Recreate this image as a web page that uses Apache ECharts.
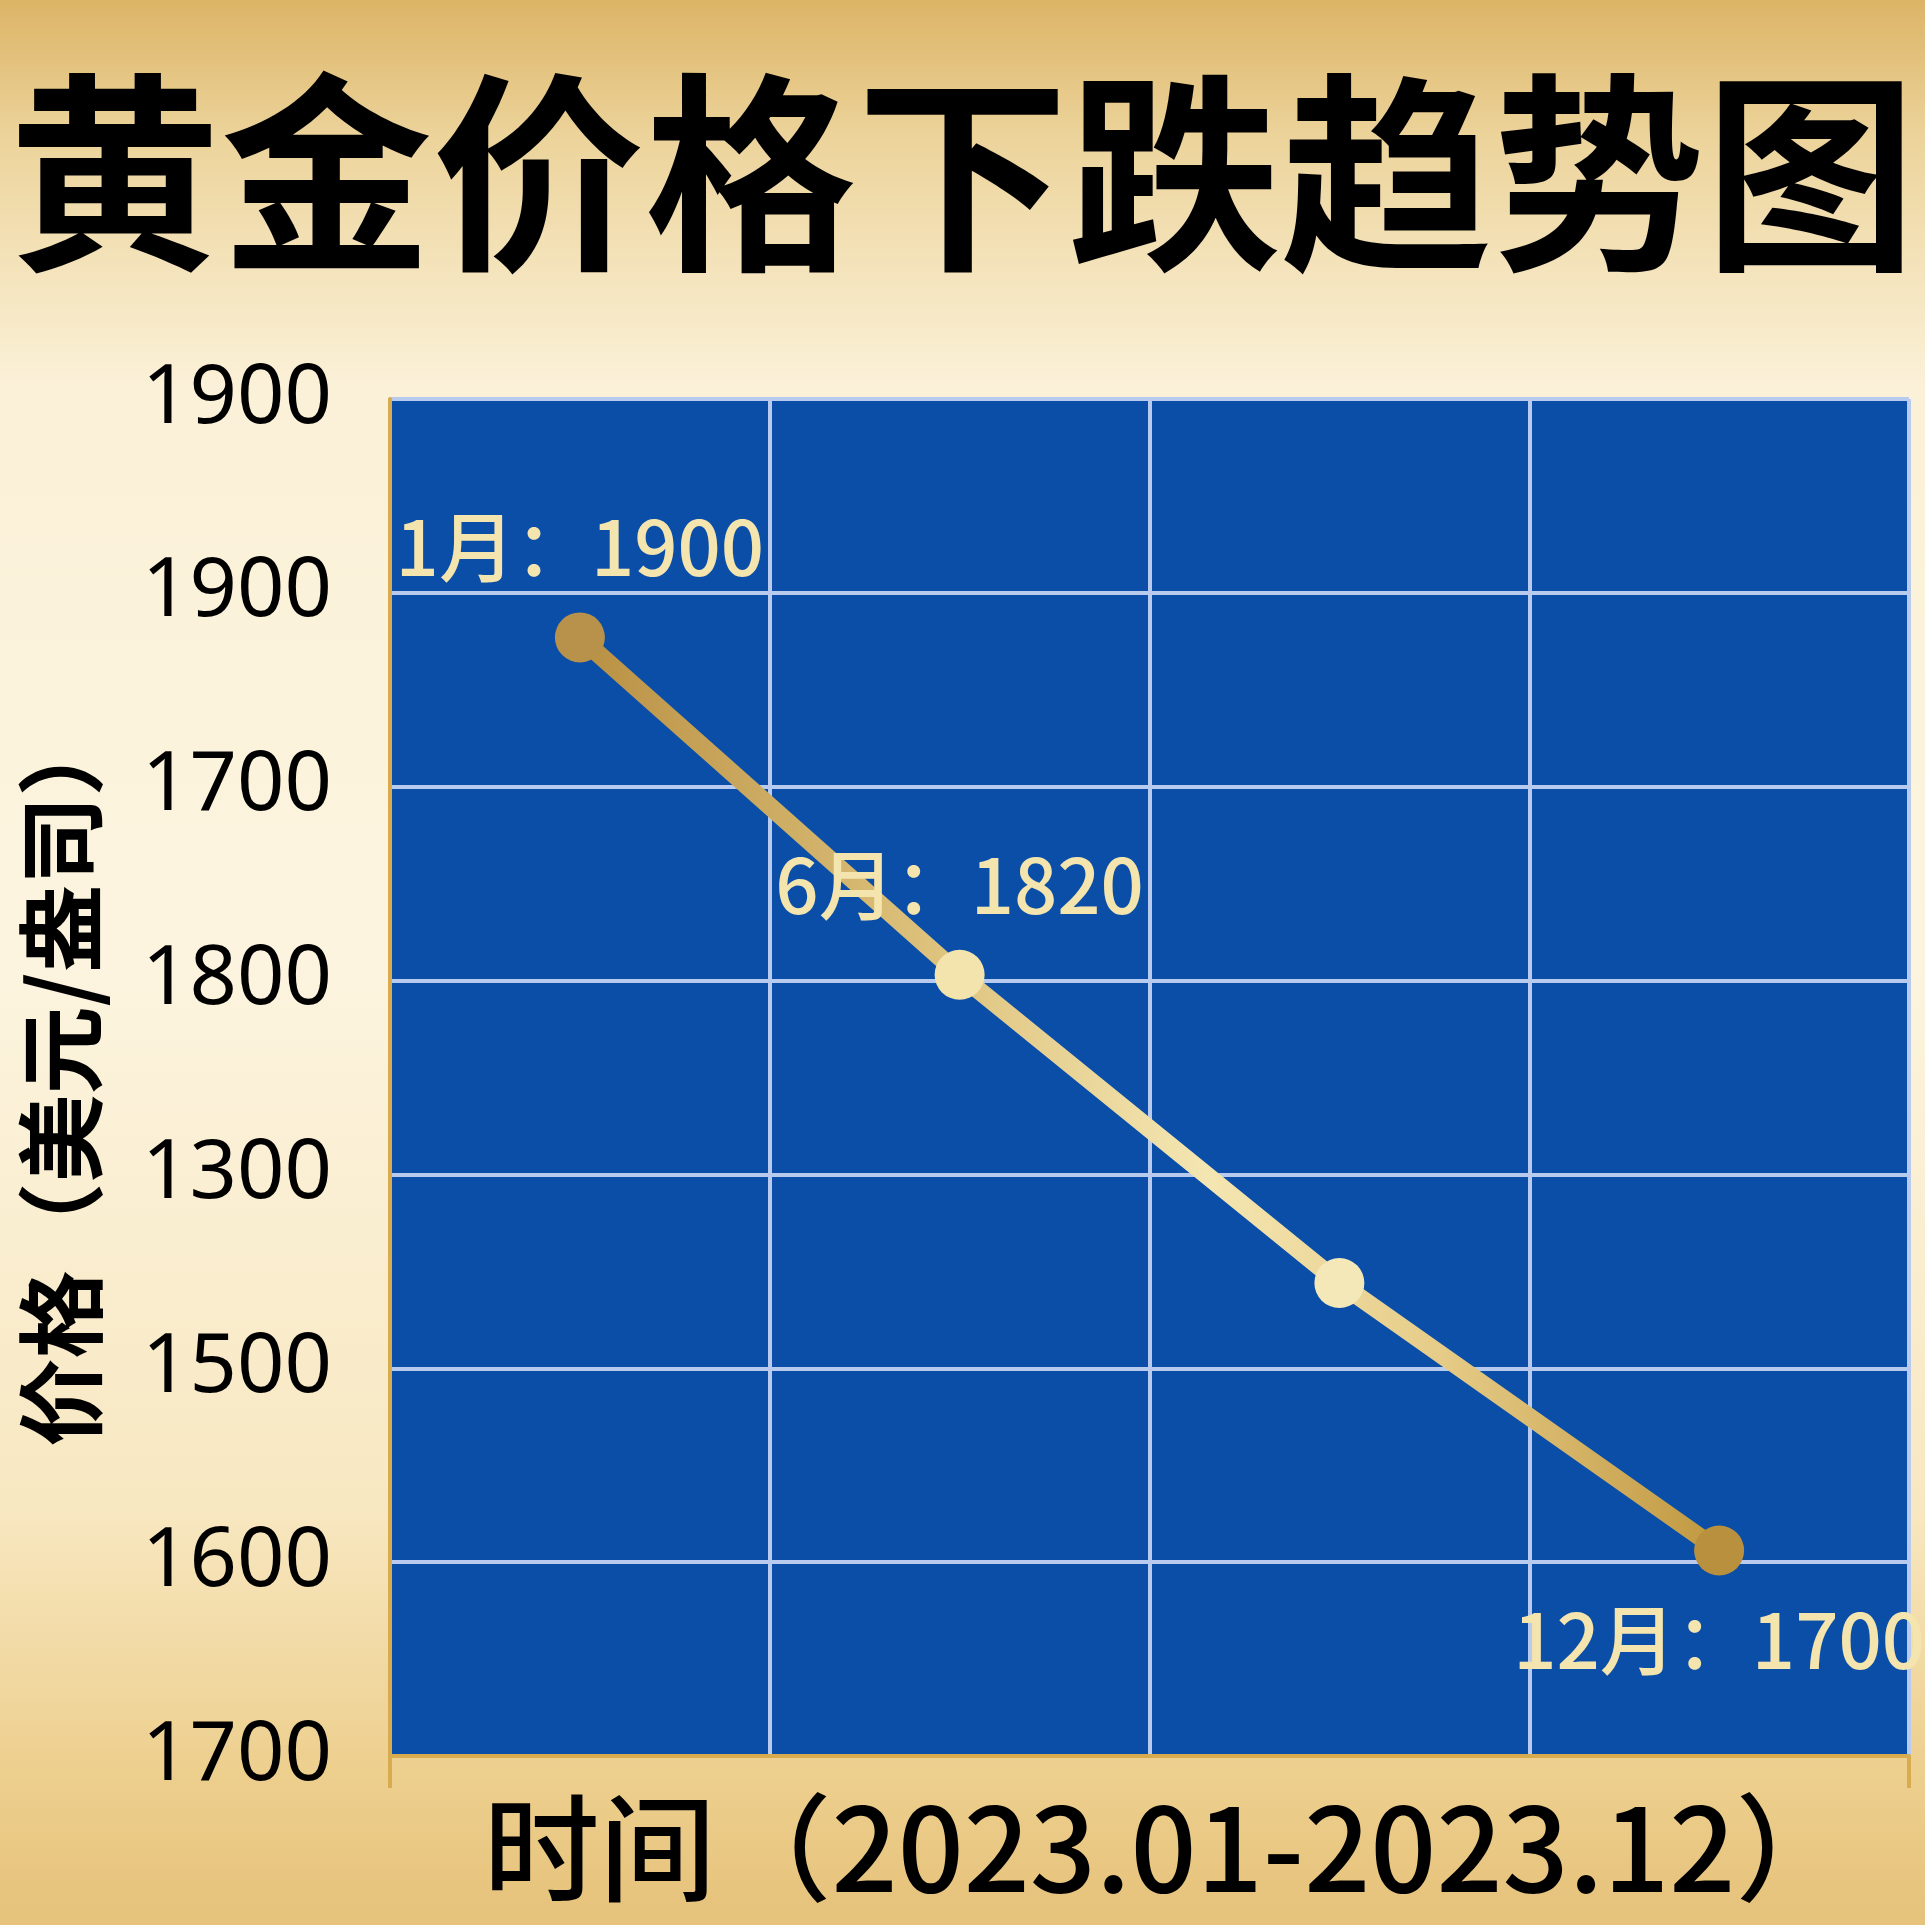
<!DOCTYPE html>
<html>
<head>
<meta charset="utf-8">
<script src="https://cdn.jsdelivr.net/npm/echarts@6/dist/echarts.min.js"></script>
<style>
html,body{margin:0;padding:0;}
#main{width:1925px;height:1925px;}
</style>
</head>
<body>
<div id="main"></div>
<script>
const titleText = '黄金价格下跌趋势图';
const xAxisName = '时间（2023.01-2023.12）';
const yAxisName = '价格（美元/盎司）';
const categories = ['1月', '6月', '', '12月'];
const yTickLabels = ['1700', '1600', '1500', '1300', '1800', '1700', '1900', '1900'];
const pointPositions = [5.77, 4.03, 2.44, 1.06];
const pointLabels = ['1月：1900', '6月：1820', '', '12月：1700'];
const pointColors = ['#b8914a', '#f3e4ae', '#f5e8b8', '#b9913e'];
const labelPlacement = ['top', 'top', 'top', 'bottom'];

const chart = echarts.init(document.getElementById('main'));
const CJK = '"Noto Sans CJK SC", "Noto Sans", sans-serif';

const seriesData = pointPositions.map((v, i) => ({
  value: v,
  itemStyle: { color: pointColors[i] },
  label: {
    show: pointLabels[i] !== '',
    formatter: pointLabels[i],
    position: labelPlacement[i],
    distance: 27
  }
}));

chart.setOption({
  backgroundColor: new echarts.graphic.LinearGradient(0, 0, 0, 1, [
    { offset: 0, color: '#dcb466' },
    { offset: 0.07, color: '#ecd39a' },
    { offset: 0.2, color: '#fbf1d8' },
    { offset: 0.5, color: '#fcf4df' },
    { offset: 0.78, color: '#f8e8c2' },
    { offset: 0.92, color: '#edcf8e' },
    { offset: 1, color: '#e6c27a' }
  ]),
  title: {
    text: titleText,
    left: 'center',
    top: 62,
    textStyle: {
      fontFamily: CJK,
      fontSize: 212,
      fontWeight: 'bold',
      color: '#000000'
    }
  },
  grid: {
    left: 390,
    right: 16,
    top: 399,
    bottom: 169,
    show: true,
    backgroundColor: '#0a4ea8',
    borderWidth: 0
  },
  xAxis: {
    type: 'category',
    data: categories,
    boundaryGap: true,
    name: xAxisName,
    nameLocation: 'middle',
    nameGap: 34,
    nameTextStyle: {
      fontFamily: CJK,
      fontSize: 116,
      fontWeight: 500,
      color: '#000000',
      padding: [0, 0, 0, 36]
    },
    axisLine: { show: true, lineStyle: { color: '#d9ab4f', width: 4 } },
    axisTick: {
      show: true,
      length: 32,
      interval: function (index) { return index === 0 || index === categories.length; },
      lineStyle: { color: '#d9ab4f', width: 4 }
    },
    axisLabel: { show: false },
    splitLine: { show: true, lineStyle: { color: '#b9caef', width: 4 } }
  },
  yAxis: {
    type: 'value',
    min: 0,
    max: 7,
    interval: 1,
    name: yAxisName,
    nameLocation: 'middle',
    nameRotate: 90,
    nameGap: 285,
    nameTextStyle: {
      fontFamily: CJK,
      fontSize: 88,
      fontWeight: 'bold',
      color: '#000000'
    },
    axisLine: { show: true, lineStyle: { color: '#d9ab4f', width: 4 } },
    axisTick: { show: false },
    axisLabel: {
      margin: 58,
      fontFamily: '"Noto Sans", sans-serif',
      fontSize: 83,
      color: '#000000',
      formatter: function (v) { return yTickLabels[v]; }
    },
    splitLine: { show: true, lineStyle: { color: '#b9caef', width: 4 } }
  },
  series: [{
    type: 'line',
    data: seriesData,
    symbol: 'circle',
    symbolSize: 50,
    lineStyle: {
      width: 18,
      color: new echarts.graphic.LinearGradient(0, 0, 1, 0, [
        { offset: 0, color: '#b88f42' },
        { offset: 0.3, color: '#dcc07a' },
        { offset: 0.55, color: '#f4e6b2' },
        { offset: 0.75, color: '#e6cc88' },
        { offset: 1, color: '#bf963e' }
      ])
    },
    label: {
      fontFamily: CJK,
      fontSize: 76,
      fontWeight: 500,
      color: '#f4e4ae'
    },
    z: 5
  }],
  animation: false
});
</script>
</body>
</html>
